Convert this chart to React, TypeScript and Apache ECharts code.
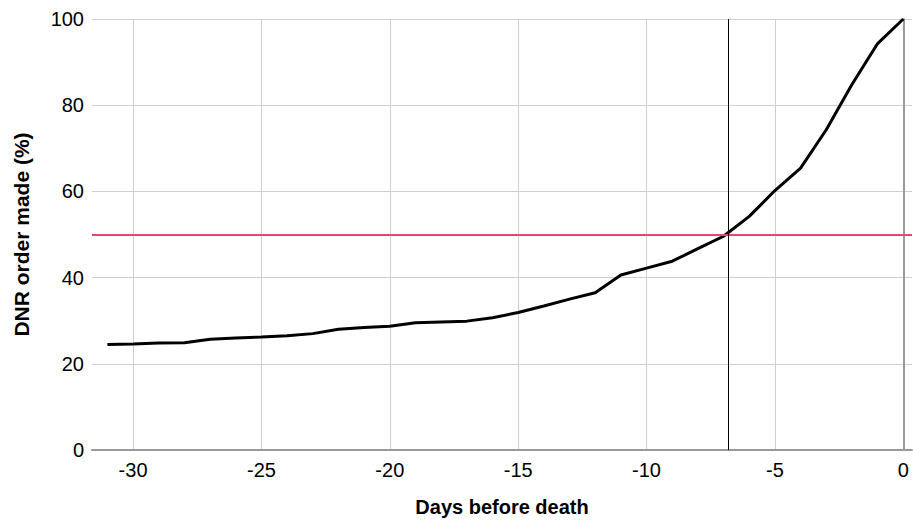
import React, { useEffect, useRef } from "react";
import * as echarts from "echarts";

const days = [-31, -30, -29, -28, -27, -26, -25, -24, -23, -22, -21, -20, -19, -18, -17, -16, -15, -14, -13, -12, -11, -10, -9, -8, -7, -6, -5, -4, -3, -2, -1, 0];
const dnrPct = [24.5, 24.6, 24.8, 24.9, 25.7, 26.0, 26.2, 26.5, 27.0, 28.0, 28.4, 28.7, 29.5, 29.7, 29.9, 30.7, 31.9, 33.4, 35.0, 36.5, 40.6, 42.2, 43.8, 46.7, 49.6, 54.2, 60.2, 65.4, 74.3, 84.8, 94.3, 100];
const xTicks = [-30, -25, -20, -15, -10, -5, 0];
const halfLine = 50;
const medianDay = -6.8;

export default function App() {
  const ref = useRef<HTMLDivElement>(null);
  useEffect(() => {
    if (!ref.current) return;
    const chart = echarts.init(ref.current, null, { renderer: "svg" });
    const font = "'Liberation Sans', Arial, sans-serif";
    chart.setOption({
      animation: false,
      backgroundColor: "#ffffff",
      grid: { left: 92, top: 19, right: 1, bottom: 70, containLabel: false, outerBoundsMode: "none" },
      xAxis: {
        type: "value",
        min: -31.6,
        max: 0.34,
        name: "Days before death",
        nameLocation: "middle",
        nameGap: 47,
        nameTextStyle: { fontFamily: font, fontWeight: "bold", fontSize: 20, color: "#000" },
        axisLine: { show: true, lineStyle: { color: "#9a9a9a", width: 2 } },
        axisTick: { show: false, customValues: xTicks },
        axisLabel: { customValues: xTicks, fontFamily: font, fontSize: 20, color: "#000", margin: 10 },
        splitLine: { show: true, lineStyle: { color: "#cfcfcf", width: 1 } },
      },
      yAxis: {
        type: "value",
        min: 0,
        max: 100,
        interval: 20,
        name: "DNR order made (%)",
        nameLocation: "middle",
        nameGap: 60,
        nameTextStyle: { fontFamily: font, fontWeight: "bold", fontSize: 21, color: "#000" },
        axisLine: { show: true, lineStyle: { color: "#9a9a9a", width: 2 } },
        axisTick: { show: false },
        axisLabel: { fontFamily: font, fontSize: 20, color: "#000", margin: 8 },
        splitLine: { show: true, lineStyle: { color: "#cfcfcf", width: 1 } },
      },
      series: [
        {
          type: "line",
          data: days.map((d, i) => [d, dnrPct[i]]),
          showSymbol: false,
          symbol: "none",
          lineStyle: { color: "#000", width: 3 },
          z: 3,
          markLine: {
            silent: true,
            symbol: "none",
            label: { show: false },
            animation: false,
            data: [
              { yAxis: halfLine, lineStyle: { color: "#e4486c", width: 2, type: "solid" } },
              { xAxis: medianDay, lineStyle: { color: "#000", width: 1, type: "solid" } },
            ],
          },
        },
      ],
    });
    return () => chart.dispose();
  }, []);
  return <div ref={ref} style={{ position: "absolute", left: 0, top: 0, width: 913, height: 520 }} />;
}
